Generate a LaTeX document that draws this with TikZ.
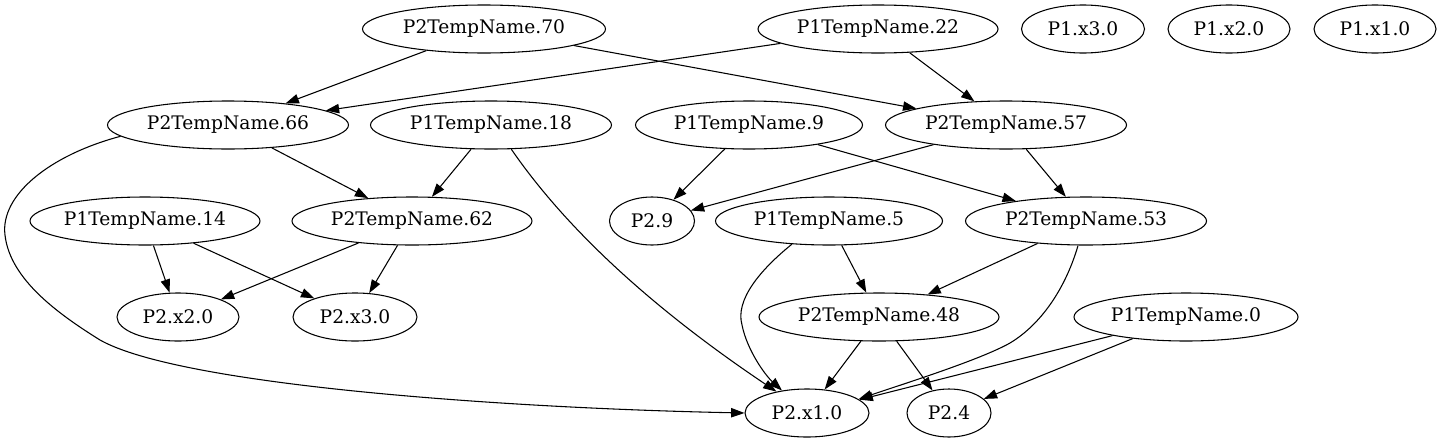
\documentclass[tikz,border=0pt]{standalone}
\usepackage{fontspec}
\setmainfont{DejaVu Serif}
\usetikzlibrary{arrows.meta,shapes.geometric}
\begin{document}
\begin{tikzpicture}[x=0.75pt,y=-0.75pt,
  nd/.style={ellipse,draw,line width=0.8pt,inner sep=0pt,minimum height=36pt,font=\fontsize{14}{16}\selectfont},
  nw/.style={minimum width={#1*0.75pt}},
  ed/.style={line width=0.8pt,-{Triangle[length=10pt,width=7pt]}}]
\useasboundingbox (0,0) rectangle (1444,443);
% row 1
\node[nd,nw=243] (n70) at (484,29) {P2TempName.70};
\node[nd,nw=240] (n22) at (878,29) {P1TempName.22};
\node[nd,nw=123] (p1x3) at (1083,29) {P1.x3.0};
\node[nd,nw=122] (p1x2) at (1229,29) {P1.x2.0};
\node[nd,nw=122] (p1x1) at (1375,29) {P1.x1.0};
% row 2
\node[nd,nw=241] (n66) at (228,125) {P2TempName.66};
\node[nd,nw=241] (n18) at (491,125) {P1TempName.18};
\node[nd,nw=227] (n9) at (749,125) {P1TempName.9};
\node[nd,nw=241] (n57) at (1006,125) {P2TempName.57};
% row 3
\node[nd,nw=230] (n14) at (145,221) {P1TempName.14};
\node[nd,nw=240] (n62) at (412,221) {P2TempName.62};
\node[nd,nw=85] (p29) at (652,221) {P2.9};
\node[nd,nw=227] (n5) at (829,221) {P1TempName.5};
\node[nd,nw=241] (n53) at (1086,221) {P2TempName.53};
% row 4
\node[nd,nw=122] (x2) at (178,317) {P2.x2.0};
\node[nd,nw=124] (x3) at (355,317) {P2.x3.0};
\node[nd,nw=240] (n48) at (879,317) {P2TempName.48};
\node[nd,nw=224] (n0) at (1186,317) {P1TempName.0};
% row 5
\node[nd,nw=124] (x1) at (807,413) {P2.x1.0};
\node[nd,nw=84] (p24) at (949,413) {P2.4};
% straight edges
\draw[ed] (n70) -- (n66);
\draw[ed] (n70) -- (n57);
\draw[ed] (n22) -- (n66);
\draw[ed] (n22) -- (n57);
\draw[ed] (n66) -- (n62);
\draw[ed] (n18) -- (n62);
\draw[ed] (n9) -- (p29);
\draw[ed] (n9) -- (n53);
\draw[ed] (n57) -- (p29);
\draw[ed] (n57) -- (n53);
\draw[ed] (n14) -- (x2);
\draw[ed] (n14) -- (x3);
\draw[ed] (n62) -- (x2);
\draw[ed] (n62) -- (x3);
\draw[ed] (n5) -- (n48);
\draw[ed] (n53) -- (n48);
\draw[ed] (n48) -- (x1);
\draw[ed] (n48) -- (p24);
\draw[ed] (n0) -- (x1);
\draw[ed] (n0) -- (p24);
% curved edges
\draw[ed] (n66.186) .. controls (50,155) and (0,195) .. (5,235)
  .. controls (10,280) and (60,315) .. (100,340)
  .. controls (180,385) and (500,408) .. (x1.west);
\draw[ed] (n18.-50) .. controls (560,220) and (640,300) .. (x1.145);
\draw[ed] (n5.-148) .. controls (760,270) and (735,300) .. (742,325)
  .. controls (747,350) and (765,375) .. (x1.138);
\draw[ed] (n53.-108) .. controls (1065,290) and (1040,325) .. (1010,343)
  .. controls (980,360) and (900,385) .. (x1.15);
\end{tikzpicture}
\end{document}
